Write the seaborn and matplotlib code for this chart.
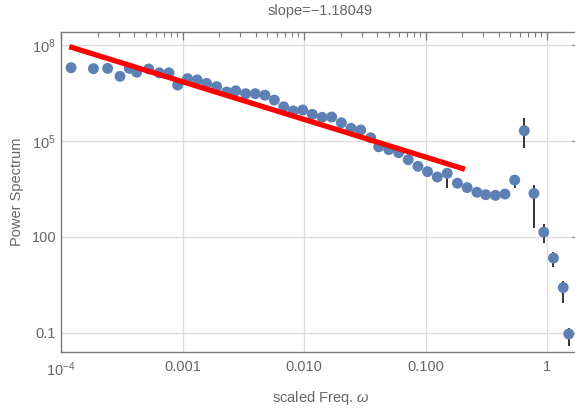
import numpy as np
import pandas as pd
import matplotlib
matplotlib.use("Agg")
import matplotlib.pyplot as plt
import matplotlib.ticker as mticker
import seaborn as sns

# ---- data ----
freq = [1.21e-4, 1.85e-4, 2.42e-4, 3.06e-4, 3.65e-4, 4.20e-4, 5.27e-4, 6.44e-4, 7.74e-4, 9.12e-4,
        1.10e-3, 1.32e-3, 1.58e-3, 1.91e-3, 2.31e-3, 2.74e-3, 3.31e-3, 3.97e-3, 4.77e-3, 5.70e-3,
        6.81e-3, 8.17e-3, 9.76e-3, 1.17e-2, 1.41e-2, 1.69e-2, 2.03e-2, 2.44e-2, 2.93e-2, 3.54e-2,
        4.12e-2, 4.98e-2, 6.01e-2, 7.21e-2, 8.67e-2, 0.104, 0.125, 0.151, 0.183, 0.220,
        0.265, 0.313, 0.376, 0.451, 0.542, 0.650, 0.781, 0.940, 1.13, 1.36, 1.51]
power = [1.95e7, 1.82e7, 1.86e7, 1.05e7, 1.86e7, 1.41e7, 1.78e7, 1.35e7, 1.35e7, 5.6e6,
         8.9e6, 8.1e6, 6.3e6, 5.0e6, 3.4e6, 3.7e6, 3.0e6, 3.0e6, 2.7e6, 1.9e6,
         1.17e6, 8.7e5, 9.3e5, 6.8e5, 5.5e5, 5.6e5, 3.7e5, 2.5e5, 2.2e5, 1.26e5,
         6.6e4, 5.4e4, 4.3e4, 2.6e4, 1.62e4, 1.10e4, 7.5e3, 9.8e3, 4.8e3, 3.5e3,
         2.5e3, 2.1e3, 2.0e3, 2.2e3, 6.0e3, 2.1e5, 2.3e3, 141, 21.9, 2.63, 0.093]
err_low = [1.95e7, 1.82e7, 1.86e7, 1.05e7, 1.86e7, 1.41e7, 1.78e7, 1.35e7, 1.35e7, 4.0e6,
           8.9e6, 8.1e6, 6.3e6, 5.0e6, 3.4e6, 3.7e6, 3.0e6, 3.0e6, 2.7e6, 1.9e6,
           1.17e6, 8.7e5, 9.3e5, 6.8e5, 5.5e5, 5.6e5, 3.7e5, 2.5e5, 2.2e5, 1.26e5,
           6.6e4, 5.4e4, 4.3e4, 2.6e4, 1.62e4, 1.10e4, 7.5e3, 3.5e3, 4.8e3, 3.5e3,
           2.5e3, 2.1e3, 2.0e3, 2.2e3, 3.5e3, 5.9e4, 186, 66, 11.2, 0.89, 0.039]
err_high = [1.95e7, 1.82e7, 1.86e7, 1.05e7, 1.86e7, 1.41e7, 1.78e7, 1.35e7, 1.35e7, 7.0e6,
            8.9e6, 8.1e6, 6.3e6, 5.0e6, 3.4e6, 3.7e6, 3.0e6, 3.0e6, 2.7e6, 1.9e6,
            1.17e6, 8.7e5, 9.3e5, 6.8e5, 5.5e5, 5.6e5, 3.7e5, 2.5e5, 2.2e5, 1.26e5,
            6.6e4, 5.4e4, 4.3e4, 2.6e4, 1.62e4, 1.10e4, 7.5e3, 1.45e4, 4.8e3, 3.5e3,
            2.5e3, 2.1e3, 2.0e3, 2.2e3, 8.9e3, 5.1e5, 4.2e3, 250, 35, 4.2, 0.14]
fit_x = [1.17e-4, 0.211]
fit_y = [8.9e7, 1.31e4]
title_text = "slope=\u22121.18049"
x_ticks = [1e-4, 1e-3, 1e-2, 1e-1, 1]
x_ticklabels = ["$10^{-4}$", "0.001", "0.010", "0.100", "1"]
y_ticks = [1e8, 1e5, 1e2, 1e-1]
y_ticklabels = ["$10^{8}$", "$10^{5}$", "100", "0.1"]
y_minor = [1e7, 1e6, 1e4, 1e3, 10, 1]

df = pd.DataFrame({"freq": freq, "power": power})
fit_df = pd.DataFrame({"x": fit_x, "y": fit_y})

sns.set_style("white")
plt.rcParams["font.family"] = ["Liberation Sans", "DejaVu Sans"]
plt.rcParams["mathtext.fontset"] = "custom"
plt.rcParams["mathtext.rm"] = "Liberation Sans"
plt.rcParams["mathtext.it"] = "Liberation Sans:italic"

text_col = "#666666"
frame_col = "#7a7a7a"
grid_col = "#dcdcdc"
blue = "#5e81b5"

fig = plt.figure(figsize=(5.75, 4.11), dpi=100)
ax = fig.add_axes([61 / 575, 59 / 411, 519 / 575, 320 / 411])
ax.set_xscale("log")
ax.set_yscale("log")

p = np.array(power)
yerr = np.vstack([p - np.array(err_low), np.array(err_high) - p])
ax.errorbar(freq, power, yerr=yerr, fmt="none", ecolor="#333333", elinewidth=1.4,
            capsize=0, zorder=2)
sns.scatterplot(data=df, x="freq", y="power", ax=ax, color=blue, s=62,
                edgecolor="none", zorder=3)
sns.lineplot(data=fit_df, x="x", y="y", ax=ax, color="#ff0000", linewidth=3.8,
             zorder=4, solid_capstyle="butt")

ax.set_xlim(1e-4, 10 ** (-4 + 519 / 121.5))
ax.set_ylim(10 ** (-1.594), 10 ** 8.406)

ax.set_xticks(x_ticks)
ax.set_xticklabels(x_ticklabels)
ax.set_yticks(y_ticks)
ax.set_yticklabels(y_ticklabels)
ax.xaxis.set_minor_locator(mticker.LogLocator(base=10, subs=np.arange(2, 10)))
ax.xaxis.set_minor_formatter(mticker.NullFormatter())
ax.yaxis.set_minor_locator(mticker.FixedLocator(y_minor))
ax.yaxis.set_minor_formatter(mticker.NullFormatter())

ax.grid(True, which="major", color=grid_col, linewidth=0.9)
ax.set_axisbelow(True)
ax.tick_params(which="both", direction="in", top=True, right=True, colors=frame_col,
               labelcolor=text_col, labelsize=10.5)
ax.tick_params(which="major", length=6, width=0.9)
ax.tick_params(which="minor", length=3.5, width=0.8)
ax.tick_params(axis="x", which="major", pad=6)
for s in ax.spines.values():
    s.set_color(frame_col)
    s.set_linewidth(1.0)

ax.set_xlabel("scaled Freq. $\\it{\\omega}$", color=text_col, fontsize=10.5, labelpad=7)
ax.set_ylabel("Power Spectrum", color=text_col, fontsize=10.5, labelpad=5.5)
ax.set_title(title_text, color=text_col, fontsize=10.5, pad=12)

fig.savefig("out.png", dpi=100)
